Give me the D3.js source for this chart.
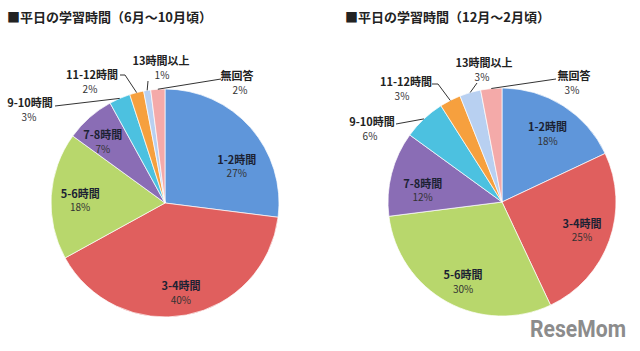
<!DOCTYPE html>
<html>
<head>
<meta charset="utf-8">
<script src="https://cdn.jsdelivr.net/npm/d3@7/dist/d3.min.js"></script>
<style>
  html, body { margin: 0; padding: 0; background: #fff; }
  svg { display: block; font-family: 'Noto Sans CJK JP', 'Noto Sans', sans-serif; }
</style>
</head>
<body>
<script>
/* global d3 */
(function () {
  'use strict'

  // Data
  var categories = ['1-2時間', '3-4時間', '5-6時間', '7-8時間', '9-10時間',
    '11-12時間', '13時間以上', '無回答']
  var summerValues = [27, 40, 18, 7, 3, 2, 1, 2]
  var winterValues = [18, 25, 30, 12, 6, 3, 3, 3]
  var titles = ['■平日の学習時間（6月～10月頃）', '■平日の学習時間（12月～2月頃）']

  var colors = ['#5f96da', '#e05f5e', '#b8d76c', '#8a6db5', '#4cc1e0',
    '#f6a03e', '#b8d0f1', '#f4aaa9']

  // Dimensions
  var dim = { w: 640, h: 351 }
  var radius = 114
  var labelRadius = 85

  // Layout of the labels that sit outside the pie (name centre, percent
  // centre, leader start, optional elbow)
  var outsideLeft = {
    '9-10時間': { name: [30, 103], pct: [29, 117], lead: [[55, 106]] },
    '11-12時間': { name: [92, 75], pct: [90, 89], lead: [[120, 75], [125, 75]] },
    '13時間以上': { name: [161, 61], pct: [162, 75], lead: [[148, 81]] },
    '無回答': { name: [237, 76], pct: [240, 90], lead: [[221, 79]] }
  }
  var outsideRight = {
    '9-10時間': { name: [372, 122], pct: [370, 136], lead: [[396, 124]] },
    '11-12時間': { name: [406, 82], pct: [402, 96], lead: [[432, 84], [438, 84]] },
    '13時間以上': { name: [484, 63], pct: [482, 77], lead: [[477, 83]] },
    '無回答': { name: [574, 76], pct: [572, 90], lead: [[556, 79]] }
  }
  // small shifts of the inside labels away from the label arc
  var nudgeLeft = {
    '1-2時間': [8, 20],
    '3-4時間': [0, 7],
    '5-6時間': [0, 3],
    '7-8時間': [-6, 3]
  }
  var nudgeRight = {
    '1-2時間': [0, 4],
    '5-6時間': [2, 6],
    '7-8時間': [3, 10]
  }

  var svg = d3.select('body').append('svg')
    .attr('width', dim.w)
    .attr('height', dim.h)

  drawPie(svg, summerValues, { cx: 165, cy: 203, tx: 7, title: titles[0],
    outside: outsideLeft, nudge: nudgeLeft })
  drawPie(svg, winterValues, { cx: 502, cy: 202, tx: 345, title: titles[1],
    outside: outsideRight, nudge: nudgeRight })

  // Watermark
  svg.append('text')
    .attr('x', 530)
    .attr('y', 337)
    .attr('textLength', 96)
    .attr('lengthAdjust', 'spacingAndGlyphs')
    .style('font-family', 'Roboto, sans-serif')
    .style('font-weight', 'bold')
    .style('font-size', '23px')
    .style('fill', '#8c8c8c')
    .text('ReseMom')

  function drawPie (ctx, values, opt) {
    var data = categories.map(function (c, i) {
      return { name: c, value: values[i], color: colors[i] }
    })
    var pie = d3.pie().sort(null).value(function (d) { return d.value })
    var arc = d3.arc().innerRadius(0).outerRadius(radius)
    var labelArc = d3.arc().innerRadius(labelRadius).outerRadius(labelRadius)
    var edgeArc = d3.arc().innerRadius(radius).outerRadius(radius)
    var arcs = pie(data)

    ctx.append('text')
      .attr('x', opt.tx)
      .attr('y', 22)
      .style('font-size', '13px')
      .style('font-weight', 'bold')
      .style('fill', '#222')
      .text(opt.title)

    var g = ctx.append('g')
      .attr('transform', 'translate(' + opt.cx + ',' + opt.cy + ')')

    g.selectAll('.slice').data(arcs)
      .enter().append('path')
      .attr('class', 'slice')
      .attr('d', arc)
      .attr('fill', function (d) { return d.data.color })
      .attr('stroke', '#fff')
      .attr('stroke-width', 0.7)

    var inside = arcs.filter(function (d) { return !opt.outside[d.data.name] })
    var outside = arcs.filter(function (d) { return opt.outside[d.data.name] })

    inside.forEach(function (d) {
      var c = labelArc.centroid(d)
      var n = opt.nudge[d.data.name] || [0, 0]
      var x = c[0] + n[0]
      var y = c[1] + n[1]
      g.append('text')
        .attr('x', x).attr('y', y - 7)
        .attr('dy', '0.35em')
        .attr('text-anchor', 'middle')
        .style('font-size', '11px')
        .style('font-weight', 'bold')
        .style('fill', '#1c2233')
        .text(d.data.name)
      g.append('text')
        .attr('x', x).attr('y', y + 7)
        .attr('dy', '0.35em')
        .attr('text-anchor', 'middle')
        .style('font-size', '10px')
        .style('fill', '#333')
        .text(d.data.value + '%')
    })

    outside.forEach(function (d) {
      var o = opt.outside[d.data.name]
      var e = edgeArc.centroid(d)
      var pts = o.lead.concat([[opt.cx + e[0], opt.cy + e[1]]])
      ctx.append('path')
        .attr('d', d3.line()(pts))
        .attr('fill', 'none')
        .attr('stroke', '#333')
        .attr('stroke-width', 1)
      ctx.append('text')
        .attr('x', o.name[0]).attr('y', o.name[1])
        .attr('dy', '0.35em')
        .attr('text-anchor', 'middle')
        .style('font-size', '11px')
        .style('font-weight', 'bold')
        .style('fill', '#222')
        .text(d.data.name)
      ctx.append('text')
        .attr('x', o.pct[0]).attr('y', o.pct[1])
        .attr('dy', '0.35em')
        .attr('text-anchor', 'middle')
        .style('font-size', '10px')
        .style('fill', '#333')
        .text(d.data.value + '%')
    })
  }
}())
</script>
</body>
</html>
